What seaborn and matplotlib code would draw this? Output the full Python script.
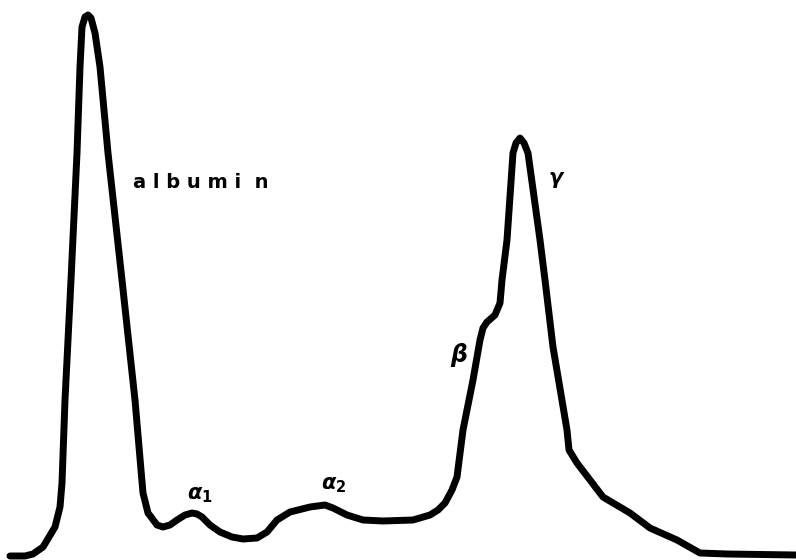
import matplotlib
matplotlib.use('Agg')
import matplotlib.pyplot as plt
import seaborn as sns
import pandas as pd

# densitometer trace (x position, height above the bottom edge)
x_pos = [10, 25, 33, 43, 55, 60, 62, 65, 71, 77, 80, 82, 85, 88, 91, 95, 100, 108, 122,
         135, 141, 143, 148, 157, 163, 170, 177, 185, 192, 197, 202, 210, 220, 232, 243,
         257, 267, 277, 290, 310, 325, 333, 347, 363, 383, 413, 430, 438, 445, 452, 457,
         463, 473, 480, 483, 487, 495, 500, 502, 507, 513, 516, 520, 524, 528, 540, 545,
         553, 567, 569, 577, 603, 630, 650, 677, 700, 727, 796]
height = [4, 4, 6, 13, 33, 53, 77, 160, 280, 407, 493, 533, 543, 545, 542, 527, 493, 407, 280,
          160, 90, 67, 47, 35, 33, 35, 40, 45, 47, 46, 43, 35, 28, 23, 21,
          22, 28, 40, 48, 53, 55, 52, 45, 40, 39, 40, 45, 50, 57, 70, 83,
          130, 180, 220, 232, 238, 245, 257, 280, 320, 407, 417, 422, 417, 407, 320, 280,
          213, 130, 110, 97, 63, 47, 32, 20, 7, 6, 5]

labels = ['a l b u m i  n',
          r'$\boldsymbol{\alpha}_{\mathbf{1}}$',
          r'$\boldsymbol{\alpha}_{\mathbf{2}}$',
          r'$\boldsymbol{\beta}$',
          r'$\boldsymbol{\gamma}$']
label_x = [133, 200, 334, 459, 557]
label_y = [378, 65, 75, 205, 380]
sizes = [14, 15, 15, 17, 15]

df = pd.DataFrame({'x': x_pos, 'h': height})

sns.set_style('white')
fig = plt.figure(figsize=(7.96, 5.6), dpi=100)
ax = fig.add_axes([0, 0, 1, 1])
sns.lineplot(data=df, x='x', y='h', sort=False, estimator=None, color='black',
             linewidth=5, ax=ax)
ax.lines[0].set_solid_joinstyle('round')
ax.lines[0].set_solid_capstyle('round')

for t, lx, ly, s in zip(labels, label_x, label_y, sizes):
    ax.text(lx, ly, t, fontsize=s, fontweight='bold',
            ha='left' if t.startswith('a ') else 'center', va='center', color='black')

ax.set_xlim(0, 796)
ax.set_ylim(0, 560)
ax.axis('off')
fig.savefig('out.png', dpi=100, facecolor='white')
